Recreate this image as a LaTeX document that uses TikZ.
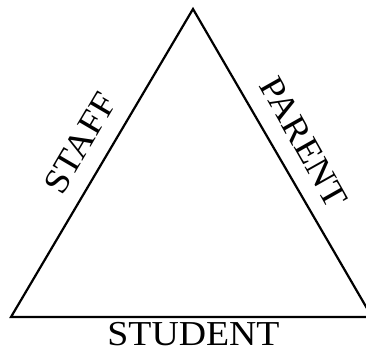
\documentclass[tikz,border=0pt]{standalone}
\usepackage{fontspec}
\setmainfont{Liberation Serif}
\begin{document}
\begin{tikzpicture}[x=1pt,y=1pt,
  lbl/.style={inner sep=0pt, anchor=base, font=\fontsize{35}{40}\selectfont}]
\useasboundingbox (0,0) rectangle (366,350);
\clip (0,0) rectangle (366,350);
\coordinate (top) at (193,341);
\coordinate (left) at (11,33);
\coordinate (right) at (372,33);
\draw[line width=2.2pt, line join=miter] (top) -- (left) -- (right) -- cycle;
\node[lbl, rotate=59.6, xscale=1.08] (staff) at (90,201) {STAFF};
\node[lbl, rotate=-60.6, xscale=1.08] (parent) at (294,202) {PARENT};
\node[lbl, xscale=1.08] (student) at (193.5,5) {STUDENT};
\end{tikzpicture}
\end{document}
